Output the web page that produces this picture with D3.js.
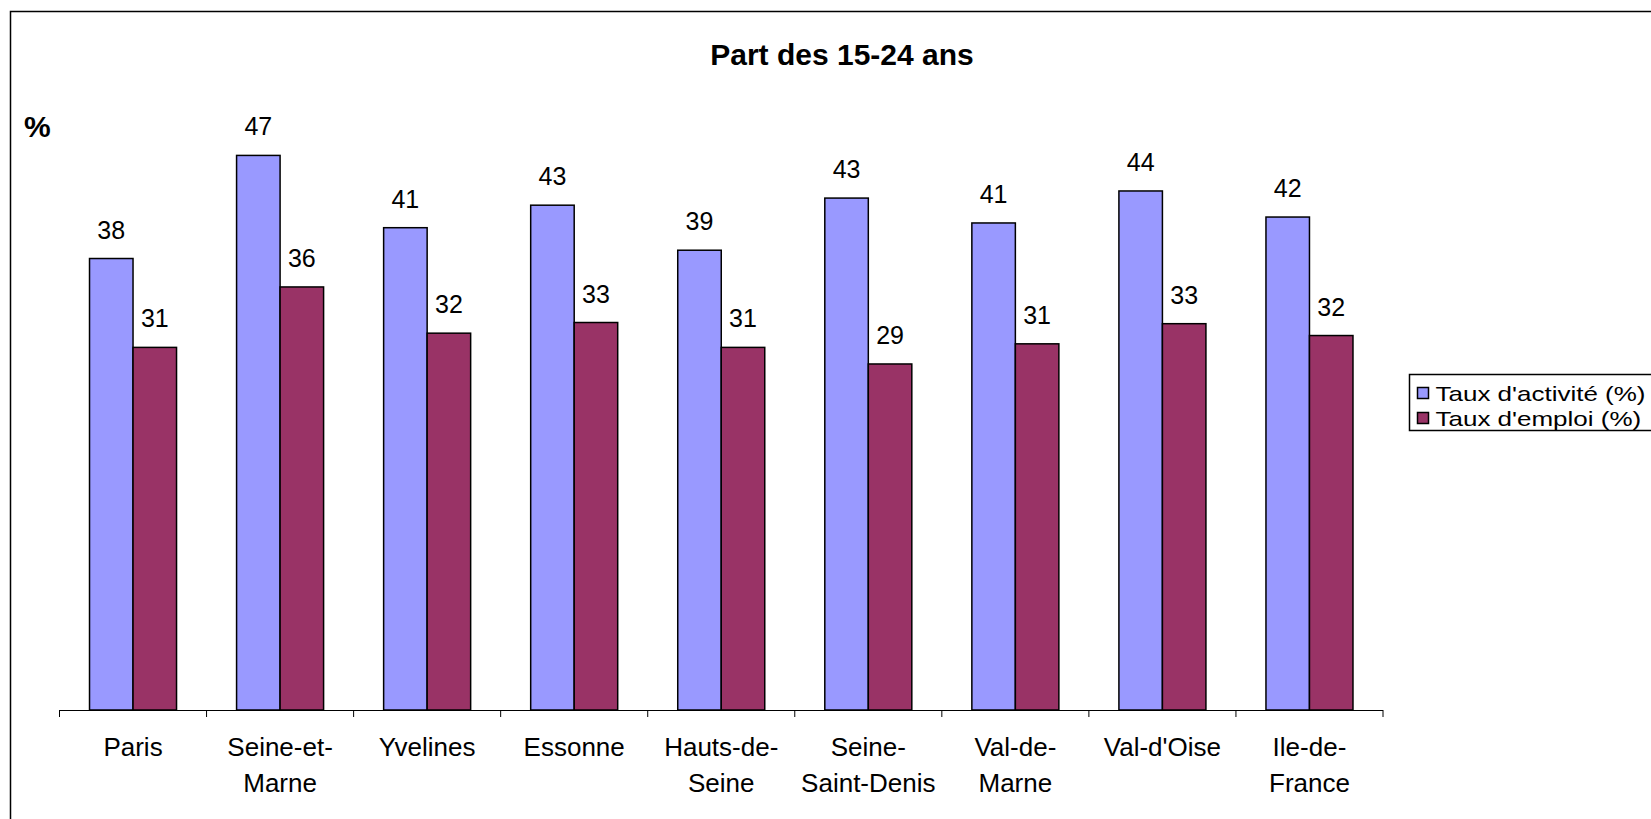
<!DOCTYPE html>
<html>
<head>
<meta charset="utf-8">
<script src="https://cdn.jsdelivr.net/npm/d3@7"></script>
<style>
  html, body { margin: 0; padding: 0; background: #fff; }
  svg { display: block; font-family: Arial, "Liberation Sans", sans-serif; }
</style>
</head>
<body>
<svg id="chart" width="1651" height="819"></svg>
<script>
// departements (label lines kept as they wrap under the axis)
var categories = ["Paris", "Seine-et-Marne", "Yvelines", "Essonne", "Hauts-de-Seine",
  "Seine-Saint-Denis", "Val-de-Marne", "Val-d'Oise", "Ile-de-France"];
var catLines = [["Paris"], ["Seine-et-", "Marne"], ["Yvelines"], ["Essonne"], ["Hauts-de-", "Seine"],
  ["Seine-", "Saint-Denis"], ["Val-de-", "Marne"], ["Val-d'Oise"], ["Ile-de-", "France"]];

var seriesNames = ["Taux d'activité (%)", "Taux d'emploi (%)"];
var activite = [38.1, 46.8, 40.7, 42.6, 38.8, 43.2, 41.1, 43.8, 41.6];
var emploi = [30.6, 35.7, 31.8, 32.7, 30.6, 29.2, 30.9, 32.6, 31.6];
var colors = ["#9999FF", "#993366"];

var svg = d3.select("#chart");

// outer frame, cut by the window at right and bottom
svg.append("rect")
  .attr("x", 10.5).attr("y", 11.5)
  .attr("width", 1800).attr("height", 900)
  .attr("fill", "none").attr("stroke", "#000").attr("stroke-width", 1.5);

var base = 710;
var x = d3.scaleBand().domain(categories).range([59.5, 1383]).padding(0);
var x1 = d3.scaleBand().domain(seriesNames).range([0, x.bandwidth()])
  .paddingInner(0).paddingOuter(0.69);
var y = d3.scaleLinear().domain([0, 50]).range([base, base - 50 * 11.85]);

var rows = categories.map(function(c, i) {
  return { cat: c, values: [activite[i], emploi[i]] };
});
var fmt = d3.format(".0f");

var groups = svg.selectAll("g.cat")
  .data(rows)
  .enter().append("g")
  .attr("class", "cat")
  .attr("transform", function(d) { return "translate(" + x(d.cat) + ",0)"; });

var bars = groups.selectAll("g.bar")
  .data(function(d) { return d.values.map(function(v, j) { return { s: seriesNames[j], v: v, j: j }; }); })
  .enter().append("g").attr("class", "bar");

bars.append("rect")
  .attr("x", function(d) { return x1(d.s); })
  .attr("y", function(d) { return y(d.v); })
  .attr("width", x1.bandwidth())
  .attr("height", function(d) { return base - y(d.v); })
  .attr("fill", function(d) { return colors[d.j]; })
  .attr("stroke", "#000").attr("stroke-width", 1.5);

bars.append("text")
  .attr("x", function(d) { return x1(d.s) + x1.bandwidth() / 2; })
  .attr("y", function(d) { return y(d.v) - 20; })
  .attr("text-anchor", "middle")
  .attr("font-size", 25)
  .text(function(d) { return fmt(d.v); });

// category axis: line + ticks between categories
var edges = categories.map(function(c) { return x(c); }).concat([x.range()[1]]);
var axis = svg.append("g").attr("class", "axis");
axis.append("line")
  .attr("x1", x.range()[0]).attr("x2", x.range()[1])
  .attr("y1", base + 0.5).attr("y2", base + 0.5)
  .attr("stroke", "#000").attr("stroke-width", 1);
axis.selectAll("line.tick")
  .data(edges)
  .enter().append("line").attr("class", "tick")
  .attr("x1", function(d) { return d; }).attr("x2", function(d) { return d; })
  .attr("y1", base).attr("y2", base + 7)
  .attr("stroke", "#000").attr("stroke-width", 1);

axis.selectAll("text.lab")
  .data(categories)
  .enter().append("text").attr("class", "lab")
  .attr("text-anchor", "middle")
  .attr("font-size", 26)
  .each(function(c, i) {
    var t = d3.select(this);
    catLines[i].forEach(function(line, k) {
      t.append("tspan")
        .attr("x", x(c) + x.bandwidth() / 2)
        .attr("y", base + 46 + k * 36)
        .text(line);
    });
  });

// title and unit
svg.append("text")
  .attr("x", 842).attr("y", 65)
  .attr("text-anchor", "middle")
  .attr("font-size", 30).attr("font-weight", "bold")
  .text("Part des 15-24 ans");
svg.append("text")
  .attr("x", 24).attr("y", 137)
  .attr("font-size", 30).attr("font-weight", "bold")
  .text("%");

// legend (text is wide and flat in the original)
var leg = svg.append("g").attr("transform", "translate(1409.5,374.5)");
leg.append("rect")
  .attr("width", 400).attr("height", 56)
  .attr("fill", "#fff").attr("stroke", "#000").attr("stroke-width", 1.5);
var items = leg.selectAll("g.item")
  .data(seriesNames)
  .enter().append("g").attr("class", "item")
  .attr("transform", function(d, i) { return "translate(0," + (18 + i * 25) + ")"; });
items.append("rect")
  .attr("x", 8).attr("y", -5).attr("width", 11).attr("height", 11)
  .attr("fill", function(d, i) { return colors[i]; })
  .attr("stroke", "#000").attr("stroke-width", 1.5);
items.append("text")
  .attr("transform", "translate(26,8) scale(1,0.78)")
  .attr("font-size", 26)
  .text(function(d) { return d; });
</script>
</body>
</html>
